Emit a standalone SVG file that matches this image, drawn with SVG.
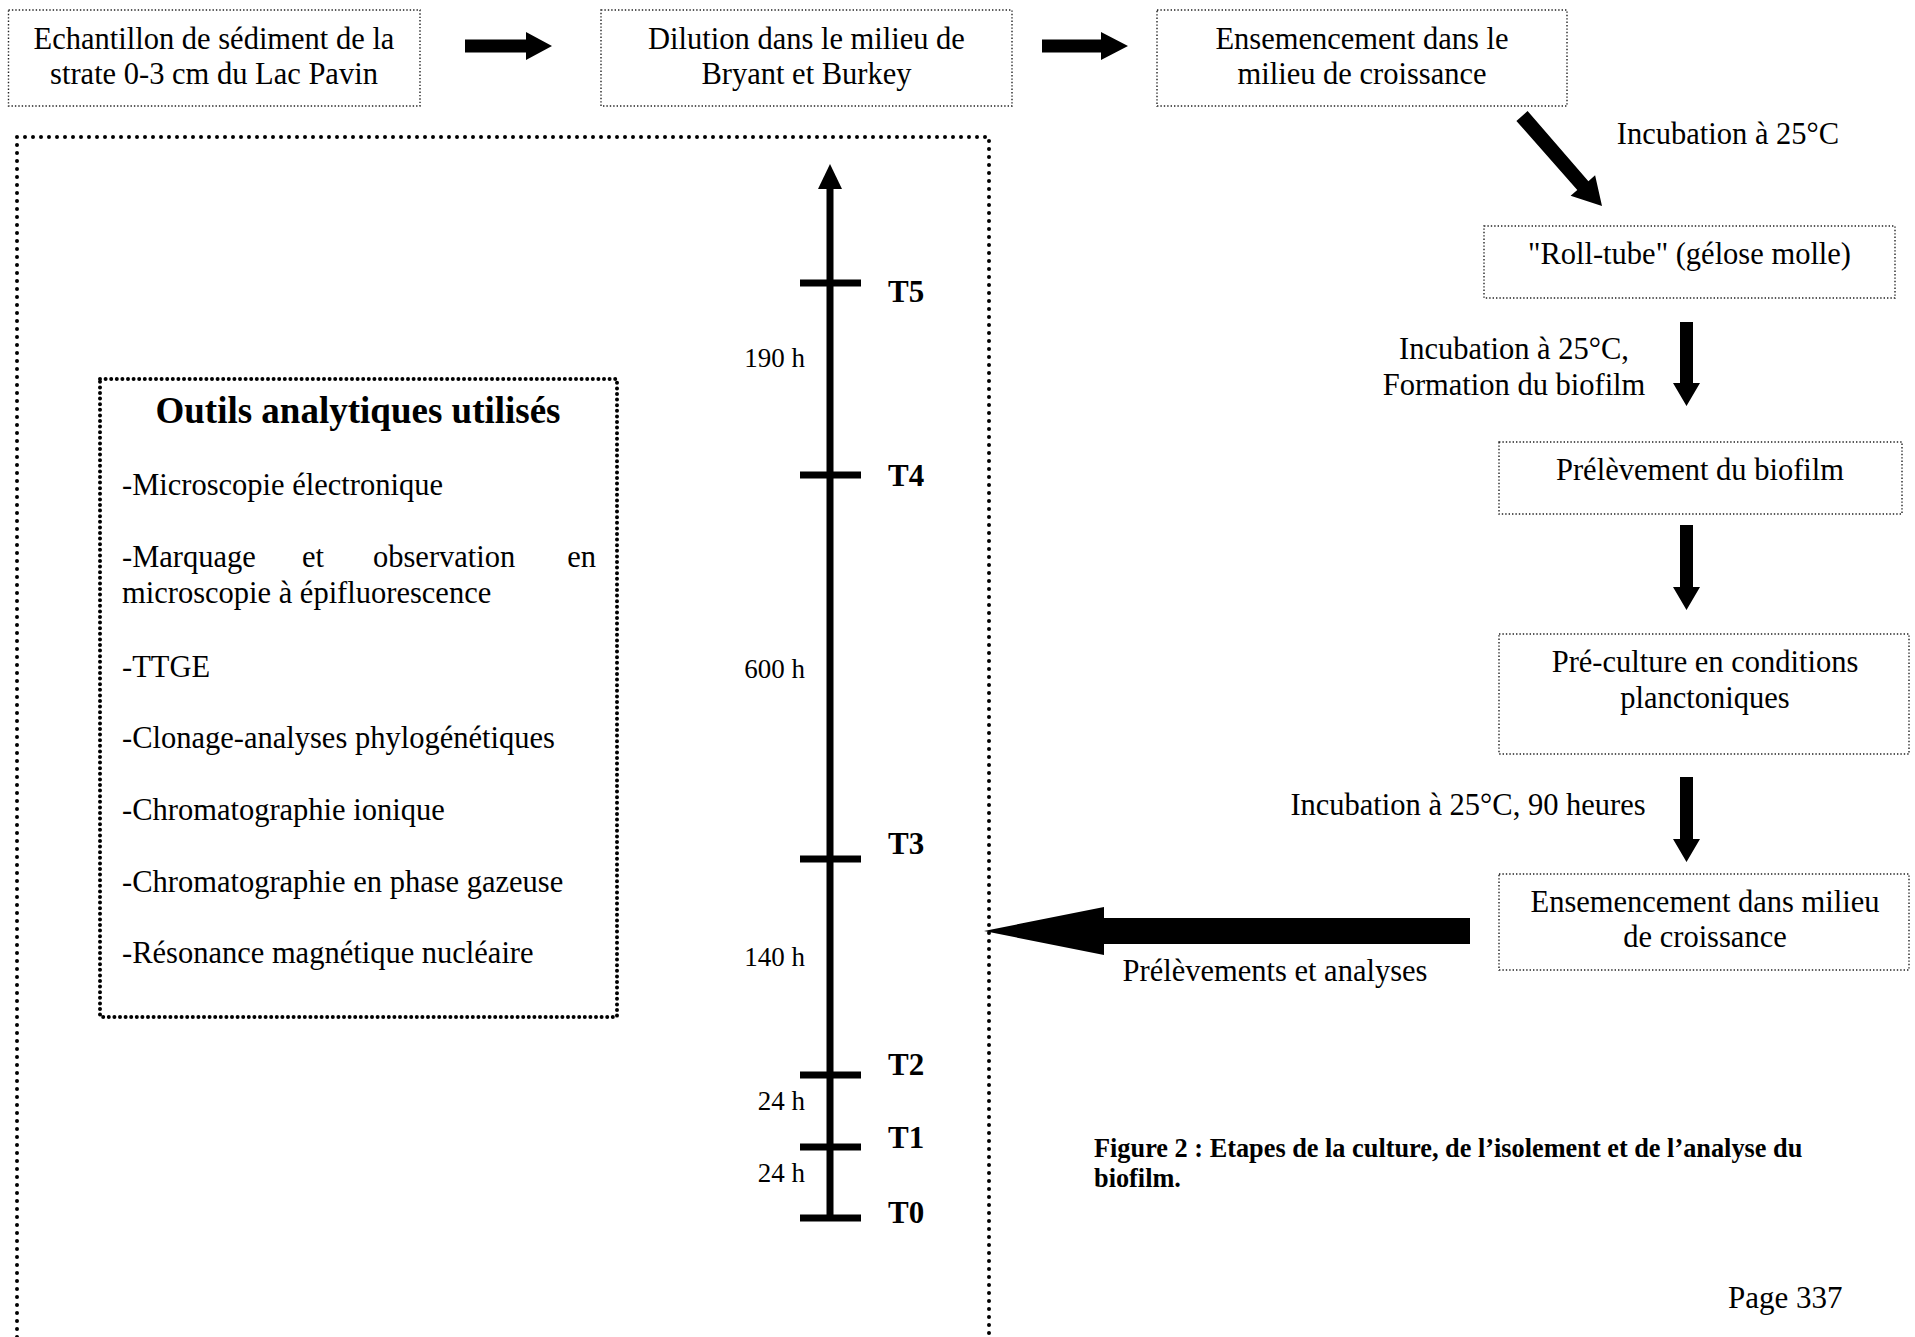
<svg xmlns="http://www.w3.org/2000/svg" width="1915" height="1337" viewBox="0 0 1915 1337">
<style>
text{font-family:"Liberation Serif","DejaVu Serif",serif;fill:#000}
.t{font-size:30.5px}
.c{text-anchor:middle}
.box{fill:none;stroke:#222;stroke-width:1.4;stroke-dasharray:1.4 2}
.outer{fill:none;stroke:#000;stroke-width:4;stroke-linecap:round;stroke-dasharray:0 8}
.inner{fill:none;stroke:#000;stroke-width:4;stroke-linecap:round;stroke-dasharray:0 5.6}
.tl{font-size:31px;font-weight:bold}
.dur{font-size:27px;text-anchor:end}
.blk{fill:#000}
</style>
<rect width="1915" height="1337" fill="#fff"/>

<g id="outer-frame"><path class="outer" d="M17,1345 V137 H989 V1345"/></g>

<g id="n1"><rect class="box" x="8.5" y="10" width="411.5" height="96"/>
<text class="t c" x="214" y="49">Echantillon de sédiment de la</text>
<text class="t c" x="214" y="84">strate 0-3 cm du Lac Pavin</text></g>

<g id="n2"><rect class="box" x="601" y="10" width="411" height="96"/>
<text class="t c" x="806.5" y="49">Dilution dans le milieu de</text>
<text class="t c" x="806.5" y="84">Bryant et Burkey</text></g>

<g id="n3"><rect class="box" x="1157" y="10" width="410" height="96"/>
<text class="t c" x="1362" y="49">Ensemencement dans le</text>
<text class="t c" x="1362" y="84">milieu de croissance</text></g>

<g id="n4"><rect class="box" x="1484" y="226" width="411" height="72"/>
<text class="t c" x="1689.5" y="264">"Roll-tube" (gélose molle)</text></g>

<g id="n5"><rect class="box" x="1499" y="442" width="403" height="72"/>
<text class="t c" x="1700" y="480">Prélèvement du biofilm</text></g>

<g id="n6"><rect class="box" x="1499" y="634" width="410" height="120"/>
<text class="t c" x="1705" y="672">Pré-culture en conditions</text>
<text class="t c" x="1705" y="708">planctoniques</text></g>

<g id="n7"><rect class="box" x="1499" y="874" width="410" height="96"/>
<text class="t c" x="1705" y="912">Ensemencement dans milieu</text>
<text class="t c" x="1705" y="947">de croissance</text></g>

<g id="tools"><rect class="inner" x="100" y="379" width="517" height="638"/>
<text class="c" x="358" y="423" style="font-size:37px;font-weight:bold">Outils analytiques utilisés</text>
<text class="t" x="122" y="495">-Microscopie électronique</text>
<text class="t" x="122" y="567">-Marquage</text>
<text class="t" x="302" y="567">et</text>
<text class="t" x="373" y="567">observation</text>
<text class="t" x="596" y="567" text-anchor="end">en</text>
<text class="t" x="122" y="603">microscopie à épifluorescence</text>
<text class="t" x="122" y="677">-TTGE</text>
<text class="t" x="122" y="748">-Clonage-analyses phylogénétiques</text>
<text class="t" x="122" y="820">-Chromatographie ionique</text>
<text class="t" x="122" y="892">-Chromatographie en phase gazeuse</text>
<text class="t" x="122" y="963">-Résonance magnétique nucléaire</text></g>

<g id="timeline">
<rect class="blk" x="826.5" y="186" width="7" height="1035"/>
<polygon class="blk" points="830,164 842,189 818,189"/>
<rect class="blk" x="800" y="279.5" width="61" height="7"/>
<rect class="blk" x="800" y="471.5" width="61" height="7"/>
<rect class="blk" x="800" y="855.5" width="61" height="7"/>
<rect class="blk" x="800" y="1071.5" width="61" height="7"/>
<rect class="blk" x="800" y="1143.5" width="61" height="7"/>
<rect class="blk" x="800" y="1214.5" width="61" height="7"/>
<text class="tl" x="888" y="302">T5</text>
<text class="tl" x="888" y="486">T4</text>
<text class="tl" x="888" y="854">T3</text>
<text class="tl" x="888" y="1075">T2</text>
<text class="tl" x="888" y="1148">T1</text>
<text class="tl" x="888" y="1223">T0</text>
<text class="dur" x="805" y="367">190 h</text>
<text class="dur" x="805" y="678">600 h</text>
<text class="dur" x="805" y="966">140 h</text>
<text class="dur" x="805" y="1110">24 h</text>
<text class="dur" x="805" y="1182">24 h</text>
</g>

<g id="connectors">
<polygon class="blk" points="465,39.5 526,39.5 526,32 552,46 526,60 526,52.5 465,52.5"/>
<polygon class="blk" points="1042,39.5 1101,39.5 1101,32 1128,46 1101,60 1101,52.5 1042,52.5"/>
<polygon class="blk" points="1516.4,121.0 1577.3,189.9 1570.6,195.8 1602,206 1595.1,175.2 1588.4,181.2 1527.6,111.0"/>
<polygon class="blk" points="1680,322 1693,322 1693,383 1700,383 1686.5,406 1673,383 1680,383"/>
<polygon class="blk" points="1680,525 1693,525 1693,587 1700,587 1686.5,610 1673,587 1680,587"/>
<polygon class="blk" points="1680,777 1693,777 1693,839 1700,839 1686.5,862 1673,839 1680,839"/>
<polygon class="blk" points="984,931 1104,907 1104,918 1470,918 1470,944 1104,944 1104,955"/>
<text class="t c" x="1728" y="144">Incubation à 25°C</text>
<text class="t c" x="1514" y="359">Incubation à 25°C,</text>
<text class="t c" x="1514" y="395">Formation du biofilm</text>
<text class="t c" x="1468" y="815">Incubation à 25°C, 90 heures</text>
<text class="t c" x="1275" y="981">Prélèvements et analyses</text>
</g>

<g id="caption">
<text x="1094" y="1157" style="font-size:26.3px;font-weight:bold">Figure 2 : Etapes de la culture, de l’isolement et de l’analyse du</text>
<text x="1094" y="1187" style="font-size:26.3px;font-weight:bold">biofilm.</text>
<text x="1728" y="1308" style="font-size:31px">Page 337</text>
</g>
</svg>
